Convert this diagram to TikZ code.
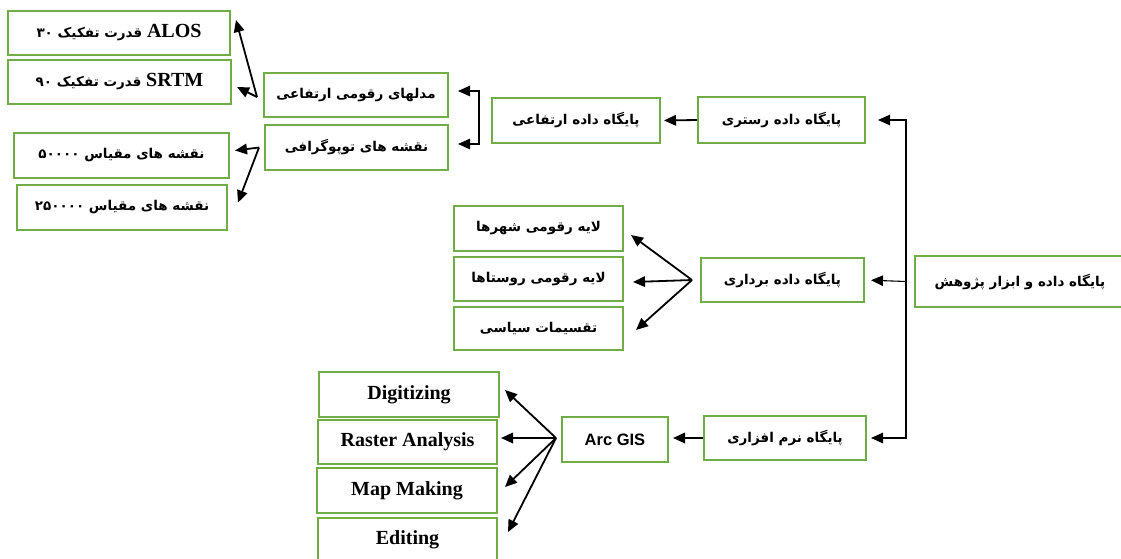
\documentclass[tikz,border=0pt]{standalone}
\usepackage{fontspec}
\setmainfont{Liberation Serif}
\newfontfamily\fa[Script=Arabic]{DejaVu Sans}
\newfontfamily\arialf{Liberation Sans}
\TeXXeTstate=1
\usetikzlibrary{arrows.meta,calc}
\definecolor{boxgreen}{RGB}{112,173,71}
\tikzset{
 bx/.style={draw=boxgreen,line width=2pt,inner sep=0pt,align=center},
 fa/.style={font=\fa\bfseries\fontsize{13.5}{16}\selectfont},
 en/.style={font=\bfseries\fontsize{20}{24}\selectfont},
 tip/.tip={Triangle[length=12pt,width=10.5pt]},
 arr/.style={draw=black,line width=1.8pt,-tip},
 thin/.style={draw=black,line width=1.1pt,-tip},
}
\begin{document}
\begin{tikzpicture}[x=1pt,y=-1pt]
\useasboundingbox (0,0) rectangle (1121,558);
% left column
\node[bx,fa,minimum width=222,minimum height=44] (alos) at (119,33) {\beginR{\rmfamily\bfseries\fontsize{20}{24}\selectfont ALOS} قدرت تفکیک ۳۰\endR};
\node[bx,fa,minimum width=223,minimum height=44] (srtm) at (119.5,82) {\beginR{\rmfamily\bfseries\fontsize{20}{24}\selectfont SRTM} قدرت تفکیک ۹۰\endR};
\node[bx,fa,minimum width=215,minimum height=45] (m50) at (121.5,155.5) {\beginR نقشه های مقیاس ۵۰۰۰۰\endR};
\node[bx,fa,minimum width=210,minimum height=45] (m250) at (122,207.5) {\beginR نقشه های مقیاس ۲۵۰۰۰۰\endR};
\node[bx,fa,minimum width=184,minimum height=44] (dem) at (356,95) {\beginR مدلهای رقومی ارتفاعی\endR};
\node[bx,fa,minimum width=183,minimum height=45] (topo) at (356.5,147.5) {\beginR نقشه های توپوگرافی\endR};
\node[bx,fa,minimum width=168,minimum height=45] (elev) at (576,120.5) {\beginR پایگاه داده ارتفاعی\endR};
\node[bx,fa,minimum width=167,minimum height=46] (raster) at (781.5,120) {\beginR پایگاه داده رستری\endR};
\node[bx,fa,minimum width=169,minimum height=45] (cities) at (538.5,228.5) {\beginR لایه رقومی شهرها\endR};
\node[bx,fa,minimum width=169,minimum height=44] (villages) at (538.5,279) {\beginR لایه رقومی روستاها\endR};
\node[bx,fa,minimum width=169,minimum height=43] (political) at (538.5,328.5) {\beginR تقسیمات سیاسی\endR};
\node[bx,fa,minimum width=163,minimum height=44] (vector) at (782.5,280) {\beginR پایگاه داده برداری\endR};
\node[bx,fa,minimum width=210,minimum height=51] (root) at (1020,281.5) {\beginR پایگاه داده و ابزار پژوهش\endR};
\node[bx,fa,minimum width=162,minimum height=44] (software) at (785,438) {\beginR پایگاه نرم افزاری\endR};
\node[bx,font=\arialf\bfseries\fontsize{16.5}{20}\selectfont,minimum width=106,minimum height=45] (arcgis) at (615,439.5) {Arc GIS};
\node[bx,en,minimum width=180,minimum height=45] (dig) at (409,394.5) {Digitizing};
\node[bx,en,minimum width=179,minimum height=44] (ras) at (407.5,442) {Raster Analysis};
\node[bx,en,minimum width=180,minimum height=45] (map) at (407,490.5) {Map Making};
\node[bx,en,minimum width=179,minimum height=44] (edit) at (407.5,540) {Editing};
% root fan
\coordinate (rv) at ($(root.west)+(-8,0)$);
\draw[thin,shorten >=12pt] (rv) |- (raster.east);
\draw[thin,shorten >=6pt] (rv) -- (vector.east);
\draw[thin,shorten >=4pt] (rv) |- (software.east);
% raster -> elev
\draw[arr,shorten >=3pt] (raster.west) -- (elev.east);
% bracket elev -> dem/topo
\draw[line width=1.1pt,tip-tip]
  ($(dem.east)+(9,-4)$) -| ($(elev.west)+(-12,0)$) |- ($(topo.east)+(9,-3.5)$);
% dem fan
\coordinate (df) at ($(dem.west)+(-6,2)$);
\draw[arr] (df) -- ($(alos.east)+(5,-13)$);
\draw[arr] (df) -- ($(srtm.east)+(5,5)$);
% topo fan
\coordinate (tf) at ($(topo.west)+(-5,0)$);
\draw[arr] (tf) -- ($(m50.east)+(5,-5)$);
\draw[arr] (tf) -- ($(m250.east)+(10,-5)$);
% vector fan
\coordinate (vf) at ($(vector.west)+(-8,0)$);
\draw[arr] (vf) -- ($(cities.east)+(7,6.5)$);
\draw[arr] (vf) -- ($(villages.east)+(9,3)$);
\draw[arr] (vf) -- ($(political.east)+(12,1.5)$);
% software -> arcgis
\draw[arr,shorten >=4pt] (software.west) -- (software.west -| arcgis.east);
% arcgis fan
\coordinate (af) at ($(arcgis.west)+(-5,-1.5)$);
\draw[arr] (af) -- ($(dig.east)+(5,-4.5)$);
\draw[arr] (af) -- ($(ras.east)+(3,-4)$);
\draw[arr] (af) -- ($(map.east)+(7,-3.5)$);
\draw[arr] (af) -- ($(edit.east)+(10,-8)$);
\end{tikzpicture}
\end{document}
